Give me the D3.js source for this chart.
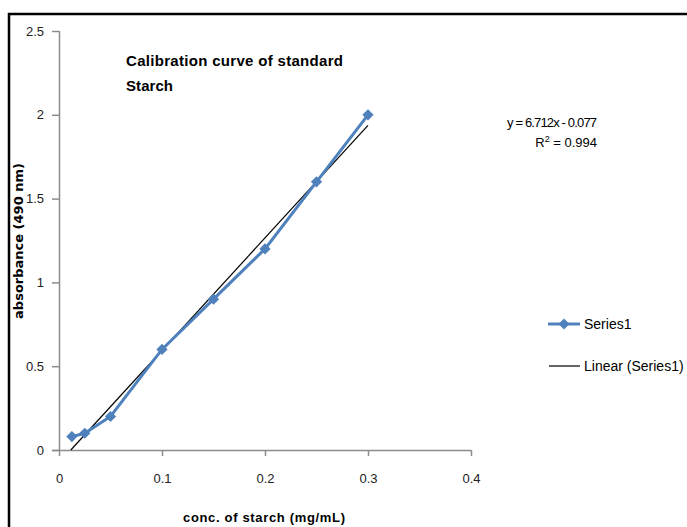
<!DOCTYPE html>
<head>
    <meta charset="UTF-8">
    <script src="https://d3js.org/d3.v7.min.js"></script>
    <style>
        body { margin: 0; background: white; }
        svg { display: block; }
        text { font-family: "Liberation Sans", Arial, sans-serif; }
    </style>
</head>
<body>
    <svg id="chart"></svg>
    <script>
        // data
        let conc = [0.0125, 0.025, 0.05, 0.1, 0.15, 0.2, 0.25, 0.3]
        let absorb = [0.08, 0.1, 0.2, 0.6, 0.9, 1.2, 1.6, 2.0]
        let slope = 6.712, intercept = -0.077
        let xTicks = [0, 0.1, 0.2, 0.3, 0.4]
        let yTicks = [0, 0.5, 1, 1.5, 2, 2.5]

        let width = 687, height = 527

        let svg = d3.select("#chart")
            .attr("width", width)
            .attr("height", height)

        // outer frame
        svg.append("path")
            .attr("d", "M9,530 L9,14 L690,14")
            .style("fill", "none")
            .style("stroke", "black")
            .style("stroke-width", 2.5)

        let x = d3.scaleLinear().domain([0, 0.4]).range([59, 471])
        let y = d3.scaleLinear().domain([0, 2.5]).range([450, 31])

        // y axis
        let yAxis = svg.append("g")
            .attr("transform", "translate(59,0)")
            .call(d3.axisLeft(y).tickValues(yTicks).tickSize(7).tickPadding(8)
                .tickFormat(d => d))
        // x axis
        let xAxis = svg.append("g")
            .attr("transform", "translate(0,450)")
            .call(d3.axisBottom(x).tickValues(xTicks).tickSize(6).tickPadding(18)
                .tickFormat(d => d))
        xAxis.select(".domain").attr("d", "M52,0.5H471")
        yAxis.select(".domain").attr("d", "M0.5,31V450")

        svg.selectAll(".domain, .tick line")
            .style("stroke", "#8c8c8c")
            .style("stroke-width", 1.5)
        svg.selectAll(".tick text")
            .style("font-family", "Liberation Sans")
            .style("font-size", "13px")
            .style("fill", "#222")

        // trendline
        let x0 = -intercept / slope
        svg.append("line")
            .attr("x1", x(x0))
            .attr("y1", y(0))
            .attr("x2", x(0.3))
            .attr("y2", y(slope * 0.3 + intercept))
            .style("stroke", "black")
            .style("stroke-width", 1.2)

        // series line
        let pts = conc.map((c, i) => [c, absorb[i]])
        svg.append("path")
            .datum(pts)
            .attr("d", d3.line().x(d => x(d[0])).y(d => y(d[1])))
            .style("fill", "none")
            .style("stroke", "#4F81BD")
            .style("stroke-width", 3)

        let diamond = d3.symbol().type(d3.symbolDiamond2).size(80)
        svg.selectAll(".marker")
            .data(pts)
            .enter()
            .append("path")
            .attr("class", "marker")
            .attr("transform", d => `translate(${x(d[0])},${y(d[1])})`)
            .attr("d", diamond)
            .style("fill", "#4F81BD")

        // titles
        svg.append("text")
            .attr("x", 126)
            .attr("y", 66)
            .text("Calibration curve of standard")
            .attr("textLength", 217)
            .style("font-size", "15px")
            .style("font-weight", "bold")
        svg.append("text")
            .attr("x", 126)
            .attr("y", 91)
            .text("Starch")
            .attr("textLength", 47)
            .style("font-size", "15px")
            .style("font-weight", "bold")

        svg.append("text")
            .attr("x", 264)
            .attr("y", 522)
            .text("conc. of starch (mg/mL)")
            .attr("textLength", 162)
            .attr("text-anchor", "middle")
            .style("font-size", "13px")
            .style("font-weight", "bold")

        svg.append("text")
            .attr("transform", "translate(23,241) rotate(-90)")
            .text("absorbance (490 nm)")
            .style("font-family", "DejaVu Sans")
            .style("font-size", "13px")
            .style("font-weight", "bold")
            .style("text-anchor", "middle")

        // equation
        svg.append("text")
            .attr("x", 507)
            .attr("y", 127)
            .text("y = 6.712x - 0.077")
            .attr("textLength", 90)
            .style("font-size", "13px")
        let r2 = svg.append("text")
            .attr("x", 597)
            .attr("y", 147)
            .style("font-size", "13px")
            .style("text-anchor", "end")
        r2.append("tspan").text("R")
        r2.append("tspan").text("2").attr("dy", -5).style("font-size", "9px")
        r2.append("tspan").text(" = 0.994").attr("dy", 5)

        // legend
        let legend = svg.append("g")
        legend.append("line")
            .attr("x1", 548).attr("x2", 580).attr("y1", 324).attr("y2", 324)
            .style("stroke", "#4F81BD").style("stroke-width", 3)
        legend.append("path")
            .attr("transform", "translate(564,324)")
            .attr("d", diamond)
            .style("fill", "#4F81BD")
        legend.append("text")
            .attr("x", 584).attr("y", 329)
            .text("Series1")
            .style("font-size", "14px")
        legend.append("line")
            .attr("x1", 549).attr("x2", 580).attr("y1", 366).attr("y2", 366)
            .style("stroke", "black").style("stroke-width", 1.2)
        legend.append("text")
            .attr("x", 584).attr("y", 371)
            .text("Linear (Series1)")
            .style("font-size", "14px")
    </script>
</body>
</html>
